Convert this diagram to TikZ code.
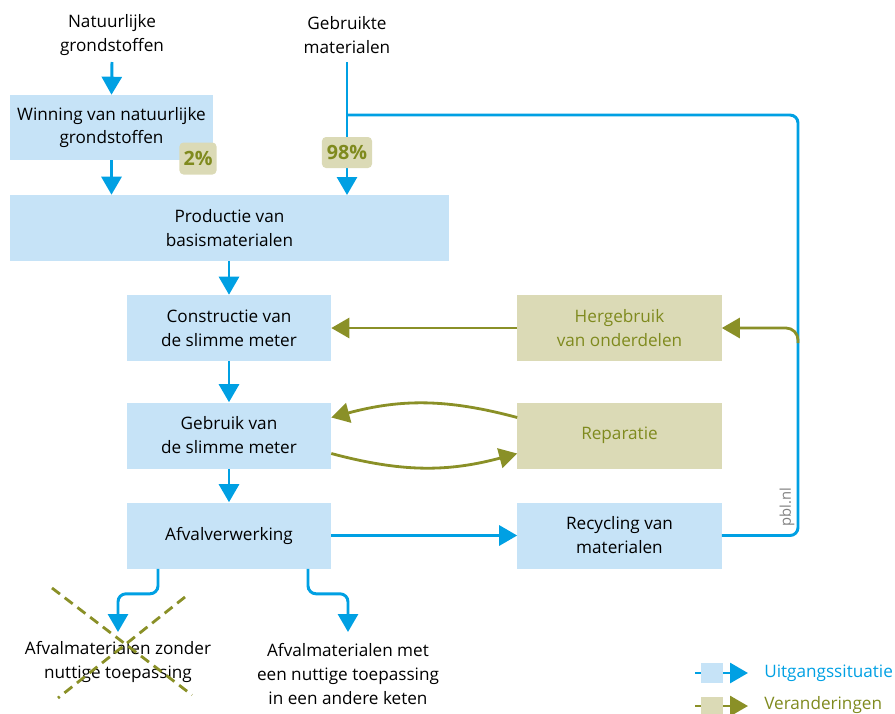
\documentclass[tikz,border=0pt]{standalone}
\usepackage{fontspec}
\setmainfont{Open Sans}
\usetikzlibrary{arrows.meta,calc}
\definecolor{pblblauw}{HTML}{00A0E3}
\definecolor{pblvlak}{HTML}{C6E3F7}
\definecolor{pblolijf}{HTML}{8A9027}
\definecolor{olijfvlak}{HTML}{DBDAB6}
\definecolor{olijftekst}{HTML}{7F8A1E}

\begin{document}
\begin{tikzpicture}[x=0.025cm,y=-0.025cm,font=\fontsize{12.2}{17}\selectfont,
	blok/.style={fill=pblvlak,minimum width=5.1cm,minimum height=1.65cm,align=center,inner sep=0pt},
	oblok/.style={blok,fill=olijfvlak,text=olijftekst},
	blauw/.style={draw=pblblauw,line width=2.1pt},
	blauwpijl/.style={blauw,-{Triangle[length=0.45cm,width=0.5cm]}},
	olijfpijl/.style={draw=pblolijf,line width=2pt,-{Triangle[length=0.45cm,width=0.5cm]}},
	badge/.style={fill=olijfvlak,rounded corners=0.1cm,text=olijftekst,font=\fontsize{14}{16}\selectfont\bfseries,inner sep=0pt,minimum height=0.8cm},
	tekst/.style={align=center,inner sep=0pt}]
	\useasboundingbox (0,0) rectangle (895,713);
	% bronnen
	\node[tekst] (nat) at (112,35) {Natuurlijke\\grondstoffen};
	\node[tekst] (geb) at (347,35) {Gebruikte\\materialen};
	% blokken
	\node[blok,minimum width=5.075cm,minimum height=1.625cm] (winning) at (111.5,127.5) {Winning van natuurlijke\\grondstoffen};
	\node[blok,minimum width=10.975cm] (productie) at (229.5,228) {Productie van\\basismaterialen};
	\node[blok] (constructie) at (229,328) {Constructie van\\de slimme meter};
	\node[blok] (gebruik) at (229,435.5) {Gebruik van\\de slimme meter};
	\node[blok] (afval) at (229,535.5) {Afvalverwerking};
	\node[oblok] (hergebruik) at (619.5,328) {Hergebruik\\van onderdelen};
	\node[oblok] (reparatie) at (619.5,435.5) {Reparatie};
	\node[blok] (recycling) at (619.5,535.5) {Recycling van\\materialen};
	\node[tekst] (zonder) at (118,662) {Afvalmaterialen zonder\\nuttige toepassing};
	\node[tekst] (met) at (348,674) {Afvalmaterialen met\\een nuttige toepassing\\in een andere keten};
	% stromen
	\draw[blauwpijl] (112,62) -- (winning.north);
	\draw[blauwpijl] (winning.south) -- (winning.south |- productie.north);
	\draw[blauwpijl] (347,62) -- (347,195);
	\coordinate (lus) at (347,115);
	\draw[blauw,rounded corners=0.2cm] (recycling.east) -- (798,535.5) -- (798,115) -- (lus);
	\draw[olijfpijl,rounded corners=0.3cm] (798,343) |- (hergebruik.east);
	\draw[blauwpijl] (constructie.north |- productie.south) -- (constructie.north);
	\draw[blauwpijl] (constructie) -- (gebruik);
	\draw[blauwpijl] (gebruik) -- (afval);
	\draw[blauwpijl] (afval) -- (recycling);
	\draw[olijfpijl] (hergebruik) -- (constructie);
	\draw[olijfpijl] ([yshift=0.45cm]reparatie.west) to[bend right=15] ([yshift=0.45cm]gebruik.east);
	\draw[olijfpijl] ([yshift=-0.45cm]gebruik.east) to[bend right=15] ([yshift=-0.45cm]reparatie.west);
	\draw[blauwpijl,rounded corners=0.2cm] ($(afval.south)+(-71,0)$) -- ++(0,25) -| (118,632);
	\draw[blauwpijl,rounded corners=0.2cm] ($(afval.south)+(79,0)$) -- ++(0,25) -| (348,632);
	% percentages
	\node[badge,minimum width=0.925cm] (twee) at (198,158.5) {2\%};
	\node[badge,minimum width=1.25cm,minimum height=0.775cm] (acht) at (347,152.5) {98\%};
	% kruis
	\draw[pblolijf,line width=2pt,dash pattern=on 0.25cm off 0.15cm] (52,588) -- (192,695) (185,597) -- (58,698);
	\node[rotate=90,text=gray,font=\fontsize{10.5}{12}\selectfont,inner sep=0pt] (pbl) at (787,507) {pbl.nl};
	% legenda
	\draw[blauwpijl] (695,673) -- (748,673);
	\fill[pblvlak] (701,663) rectangle (723,683);
	\node[anchor=west,text=pblblauw,inner sep=0pt] (uit) at (764,673) {Uitgangssituatie};
	\draw[olijfpijl] (695,706) -- (748,706);
	\fill[olijfvlak] (701,697) rectangle (723,716);
	\node[anchor=west,text=olijftekst,inner sep=0pt] (ver) at (764,705) {Veranderingen};
\end{tikzpicture}
\end{document}
